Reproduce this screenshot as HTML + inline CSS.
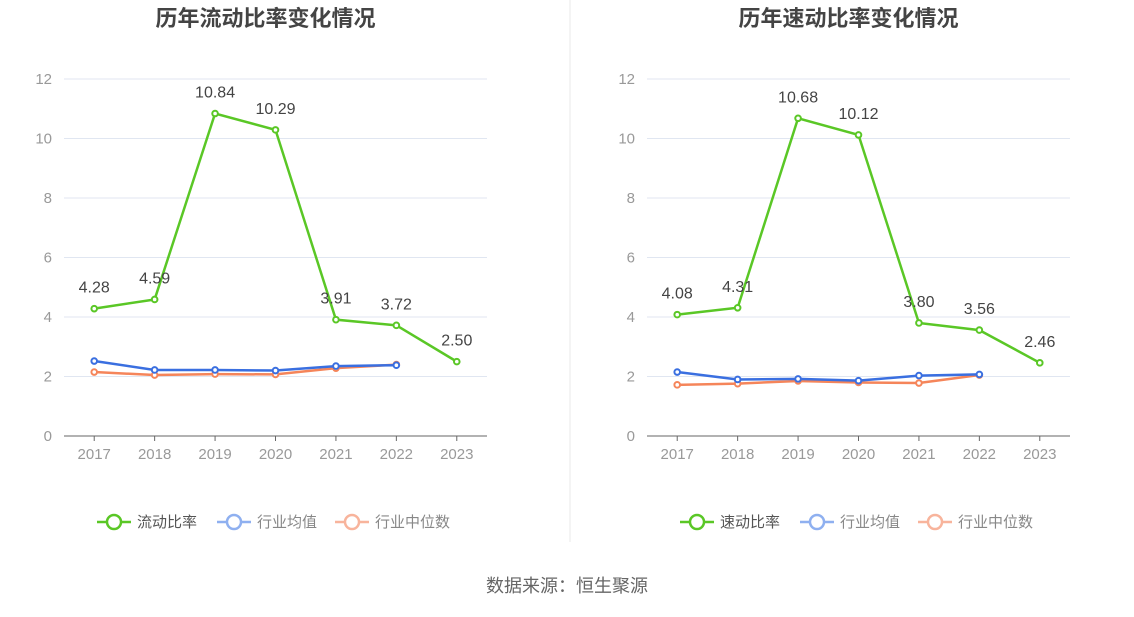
<!DOCTYPE html>
<html><head><meta charset="utf-8"><style>
body{margin:0;background:#fff;}
svg text{font-family:"Liberation Sans","Noto Sans CJK SC",sans-serif;}
</style></head><body>
<svg id="c" width="1134" height="612" xmlns="http://www.w3.org/2000/svg">
<line x1="570" y1="0" x2="570" y2="542" stroke="#e8e8e8"/>
<text x="567" y="592" text-anchor="middle" font-size="18" fill="#666">数据来源：恒生聚源</text>
</svg>
<script>
const years=["2017","2018","2019","2020","2021","2022","2023"];
const yTicks=[0,2,4,6,8,10,12];
const leftMain=[4.28,4.59,10.84,10.29,3.91,3.72,2.50];
const leftAvg=[2.52,2.22,2.22,2.20,2.35,2.38];
const leftMed=[2.15,2.05,2.08,2.07,2.28,2.40];
const rightMain=[4.08,4.31,10.68,10.12,3.80,3.56,2.46];
const rightAvg=[2.15,1.90,1.92,1.86,2.03,2.07];
const rightMed=[1.72,1.76,1.85,1.80,1.78,2.05];
const svg=document.getElementById('c');
const NS="http://www.w3.org/2000/svg";
function mk(tag,attrs,parent){const e=document.createElementNS(NS,tag);for(const k in attrs)e.setAttribute(k,attrs[k]);(parent||svg).appendChild(e);return e;}
function panel(x0,title,mainName,main,avg,med,key){
  const x1=x0+423,yb=436,yt=79;
  const g=mk('g',{});
  
  
  const xs=i=>x0+(i+0.5)*(x1-x0)/years.length;
  const ys=v=>yb-(v/12)*(yb-yt);
  const t=mk('text',{x:(x0+x1)/2-10,y:26,'text-anchor':'middle','font-size':22,'font-weight':'bold',fill:'#444'},g);
  t.textContent=title;
  
  
  yTicks.forEach(v=>{
    if(v>0){const l=mk('line',{x1:x0,x2:x1,y1:ys(v),y2:ys(v),stroke:'#e0e6f1'},g);
    
    }
    const tx=mk('text',{x:x0-12,y:ys(v)+5,'text-anchor':'end','font-size':15,fill:'#999'},g);
    tx.textContent=v;
    
    
  });
  const ax=mk('line',{x1:x0,x2:x1,y1:yb,y2:yb,stroke:'#666'},g);
  
  
  years.forEach((y,i)=>{
    const tk=mk('line',{x1:xs(i),x2:xs(i),y1:yb,y2:yb+5,stroke:'#666'},g);
    
    
    const tx=mk('text',{x:xs(i),y:yb+23,'text-anchor':'middle','font-size':15,fill:'#999'},g);
    tx.textContent=y;
    
    
  });
  function series(arr,color,name,labels){
    const p=mk('polyline',{points:arr.map((v,i)=>xs(i)+','+ys(v)).join(' '),fill:'none',stroke:color,'stroke-width':2.5},g);
    
    
    arr.forEach((v,i)=>{
      const c=mk('circle',{cx:xs(i),cy:ys(v),r:2.8,fill:'#fff',stroke:color,'stroke-width':2},g);
      
      
      if(labels){const tx=mk('text',{x:xs(i),y:ys(v)-16,'text-anchor':'middle','font-size':16,fill:'#444'},g);
        tx.textContent=v.toFixed(2);
        
        }
    });
  }
  series(med,'#f5855a','industry-median',false);
  series(avg,'#3a6fe0','industry-average',false);
  series(main,'#5ac726',key+'-ratio',true);
  const leg=[[mainName,'#5ac726','#555'],['行业均值','#8fb0f0','#888'],['行业中位数','#f8b49c','#888']];
  let lx=x0+33;
  const widths=[120,118,0];
  leg.forEach((L,i)=>{
    const lg=mk('g',{},g);
    
    
    mk('line',{x1:lx,x2:lx+34,y1:522,y2:522,stroke:L[1],'stroke-width':2.5},lg);
    mk('circle',{cx:lx+17,cy:522,r:7,fill:'#fff',stroke:L[1],'stroke-width':2.5},lg);
    const tx=mk('text',{x:lx+40,y:527,'font-size':15,fill:L[2]},lg);
    tx.textContent=L[0];
    lx+=widths[i];
  });
}
panel(64,'历年流动比率变化情况','流动比率',leftMain,leftAvg,leftMed,'current');
panel(647,'历年速动比率变化情况','速动比率',rightMain,rightAvg,rightMed,'quick');
</script>
</body></html>
